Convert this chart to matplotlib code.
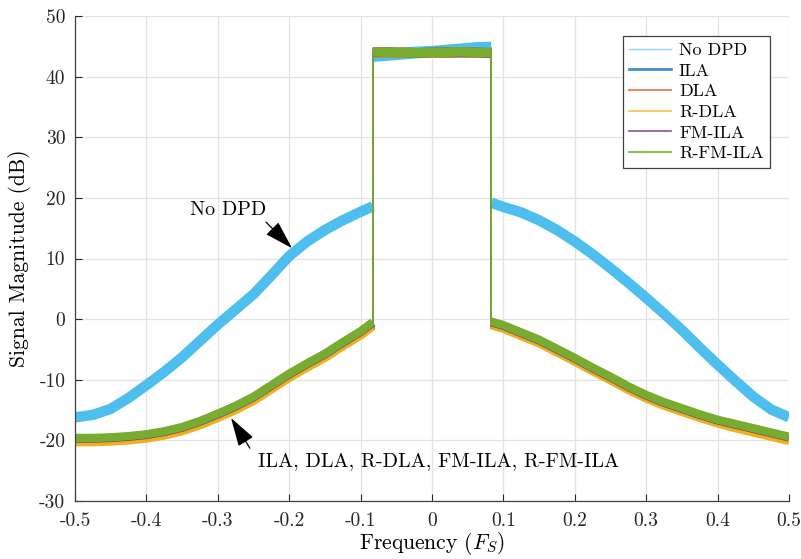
import matplotlib
matplotlib.use("Agg")
import matplotlib.pyplot as plt
from matplotlib.lines import Line2D

plt.rcParams['font.family'] = ['cmr10', 'DejaVu Serif']
plt.rcParams['mathtext.fontset'] = 'cm'
plt.rcParams['axes.unicode_minus'] = False
plt.rcParams['axes.formatter.use_mathtext'] = True

# ---------------- data ----------------
f_left = [-0.5, -0.475, -0.45, -0.425, -0.4, -0.375, -0.35, -0.325, -0.3, -0.275,
          -0.25, -0.225, -0.2, -0.175, -0.15, -0.125, -0.1, -0.083]
f_in = [-0.083, -0.06, -0.04, -0.02, 0.0, 0.02, 0.04, 0.06, 0.083]
f_right = [0.083, 0.1, 0.125, 0.15, 0.175, 0.2, 0.225, 0.25, 0.275, 0.3,
           0.325, 0.35, 0.375, 0.4, 0.425, 0.45, 0.475, 0.5]

nodpd_left = [-16.2, -15.8, -14.8, -13.0, -10.9, -8.7, -6.3, -3.6, -0.9, 1.6,
              4.1, 7.2, 10.4, 12.8, 14.7, 16.3, 17.7, 18.6]
nodpd_in = [43.4, 43.6, 43.8, 44.0, 44.1, 44.3, 44.5, 44.7, 44.8]
nodpd_right = [19.2, 18.5, 17.6, 16.3, 14.7, 12.8, 10.7, 8.4, 6.0, 3.5,
               0.9, -1.8, -4.7, -7.5, -10.2, -12.8, -14.9, -16.2]

ila_left = [-19.8, -19.8, -19.7, -19.5, -19.2, -18.7, -18.0, -17.0, -15.8, -14.5,
            -13.0, -11.1, -9.2, -7.5, -5.9, -4.0, -2.2, -0.7]
ila_in = [44.0, 44.0, 43.9, 43.9, 43.9, 44.0, 44.0, 43.9, 43.9]
ila_right = [-0.7, -1.3, -2.4, -3.6, -5.1, -6.6, -8.2, -9.7, -11.3, -12.7,
             -13.9, -14.9, -15.9, -16.8, -17.5, -18.2, -18.9, -19.6]

dla_left = [-20.1, -20.1, -20.0, -19.8, -19.5, -19.0, -18.3, -17.3, -16.1, -14.8,
            -13.3, -11.4, -9.5, -7.8, -6.2, -4.3, -2.5, -1.0]
dla_in = [43.9, 43.9, 43.9, 43.9, 43.9, 43.9, 44.0, 43.9, 43.9]
dla_right = [-0.9, -1.5, -2.6, -3.8, -5.3, -6.8, -8.4, -9.9, -11.5, -12.9,
             -14.1, -15.1, -16.1, -17.0, -17.7, -18.4, -19.1, -19.8]

rdla_left = [-20.3, -20.3, -20.2, -20.0, -19.7, -19.2, -18.5, -17.5, -16.3, -15.0,
             -13.5, -11.6, -9.7, -8.0, -6.4, -4.5, -2.7, -1.2]
rdla_in = [43.9, 43.9, 43.9, 43.9, 43.9, 44.0, 44.0, 43.9, 43.9]
rdla_right = [-1.0, -1.6, -2.8, -4.0, -5.5, -7.0, -8.6, -10.1, -11.7, -13.1,
              -14.3, -15.3, -16.3, -17.2, -18.0, -18.7, -19.4, -20.1]

fmila_left = [-19.7, -19.7, -19.6, -19.4, -19.1, -18.6, -17.9, -16.9, -15.7, -14.4,
              -12.9, -11.0, -9.1, -7.4, -5.8, -3.9, -2.1, -0.6]
fmila_in = [44.0, 44.0, 44.0, 43.9, 44.0, 44.0, 44.0, 44.0, 43.9]
fmila_right = [-0.5, -1.1, -2.3, -3.5, -5.0, -6.5, -8.1, -9.6, -11.2, -12.6,
               -13.8, -14.8, -15.8, -16.7, -17.4, -18.1, -18.8, -19.5]

rfmila_left = [-19.6, -19.6, -19.5, -19.3, -19.0, -18.5, -17.8, -16.8, -15.6, -14.3,
               -12.8, -10.9, -9.0, -7.3, -5.7, -3.8, -2.0, -0.5]
rfmila_in = [44.1, 44.0, 44.0, 43.9, 44.0, 44.0, 44.1, 44.0, 44.0]
rfmila_right = [-0.4, -1.0, -2.2, -3.4, -4.9, -6.4, -8.0, -9.5, -11.1, -12.5,
                -13.7, -14.7, -15.7, -16.6, -17.3, -18.0, -18.7, -19.4]

labels = ['No DPD', 'ILA', 'DLA', 'R-DLA', 'FM-ILA', 'R-FM-ILA']
series = [
    (nodpd_left, nodpd_in, nodpd_right),
    (ila_left, ila_in, ila_right),
    (dla_left, dla_in, dla_right),
    (rdla_left, rdla_in, rdla_right),
    (fmila_left, fmila_in, fmila_right),
    (rfmila_left, rfmila_in, rfmila_right),
]
colors = ['#4DBEEE', '#0072BD', '#D95319', '#EDB120', '#7E2F8E', '#77AC30']
band_lw = [7.5, 6.0, 6.0, 6.0, 6.0, 6.0]
legend_lw = [1.0, 2.0, 1.5, 1.2, 1.2, 1.5]
legend_colors = ['#8fd3f3', '#3f8fcf', '#e58a66', '#f2c24f', '#8e4f9c', '#93bd5c']

x_ticks = [-0.5, -0.4, -0.3, -0.2, -0.1, 0, 0.1, 0.2, 0.3, 0.4, 0.5]
x_ticklabels = ['-0.5', '-0.4', '-0.3', '-0.2', '-0.1', '0', '0.1', '0.2', '0.3', '0.4', '0.5']
y_ticks = [-30, -20, -10, 0, 10, 20, 30, 40, 50]
y_ticklabels = ['-30', '-20', '-10', '0', '10', '20', '30', '40', '50']

# ---------------- figure ----------------
fig = plt.figure(figsize=(8.01, 5.59), dpi=100)
ax = fig.add_axes([75 / 801, 58 / 559, 714 / 801, 485 / 559])

for (lv, iv, rv), c, lw in zip(series, colors, band_lw):
    ax.plot(f_left, lv, color=c, lw=lw, solid_capstyle='butt', solid_joinstyle='round')
    ax.plot(f_in, iv, color=c, lw=lw + 1.0, solid_capstyle='butt')
    ax.plot(f_right, rv, color=c, lw=lw, solid_capstyle='butt', solid_joinstyle='round')
    # band-edge jumps (thin)
    ax.plot([f_left[-1], f_in[0]], [lv[-1], iv[0]], color=c, lw=1.3)
    ax.plot([f_in[-1], f_right[0]], [iv[-1], rv[0]], color=c, lw=1.3)

ax.set_xlim(-0.5, 0.5)
ax.set_ylim(-30, 50)
ax.set_xticks(x_ticks)
ax.set_xticklabels(x_ticklabels)
ax.set_yticks(y_ticks)
ax.set_yticklabels(y_ticklabels)
ax.tick_params(direction='in', length=5, width=0.8, colors='#262626',
               labelsize=14, top=False, right=False)
ax.tick_params(axis='x', pad=8)
ax.tick_params(axis='y', pad=7)
ax.grid(True, color='#e3e3e3', lw=0.9)
ax.set_axisbelow(True)
for s in ['top', 'right']:
    ax.spines[s].set_visible(False)
for s in ['left', 'bottom']:
    ax.spines[s].set_color('#404040')
    ax.spines[s].set_linewidth(0.9)

ax.set_xlabel('Frequency ($F_S$)', fontsize=15.5, labelpad=0)
ax.set_ylabel('Signal Magnitude (dB)', fontsize=15.5, labelpad=6)

# annotations
arrow_style = dict(arrowstyle='-|>,head_length=1.0,head_width=0.3', color='black',
                   lw=0.9, mutation_scale=18, shrinkA=0, shrinkB=0)
ax.annotate('', xy=(-0.196, 11.7), xytext=(-0.2325, 16.0), arrowprops=arrow_style)
ax.text(-0.339, 18.0, 'No DPD', fontsize=14.5, ha='left', va='center')
ax.annotate('', xy=(-0.2815, -16.3), xytext=(-0.255, -21.3), arrowprops=arrow_style)
ax.text(-0.2437, -23.4, 'ILA, DLA, R-DLA, FM-ILA, R-FM-ILA', fontsize=14.5,
        ha='left', va='center')

handles = [Line2D([0], [0], color=c, lw=lw) for c, lw in zip(legend_colors, legend_lw)]
leg = ax.legend(handles, labels, loc='upper right', bbox_to_anchor=(0.9735, 0.959),
                fontsize=13, frameon=True, fancybox=False, framealpha=1,
                handlelength=2.3, handletextpad=0.45, borderpad=0.35,
                labelspacing=0.28, borderaxespad=0)
leg.get_frame().set_edgecolor('#404040')
leg.get_frame().set_linewidth(0.9)

fig.savefig('out.png', dpi=100)
